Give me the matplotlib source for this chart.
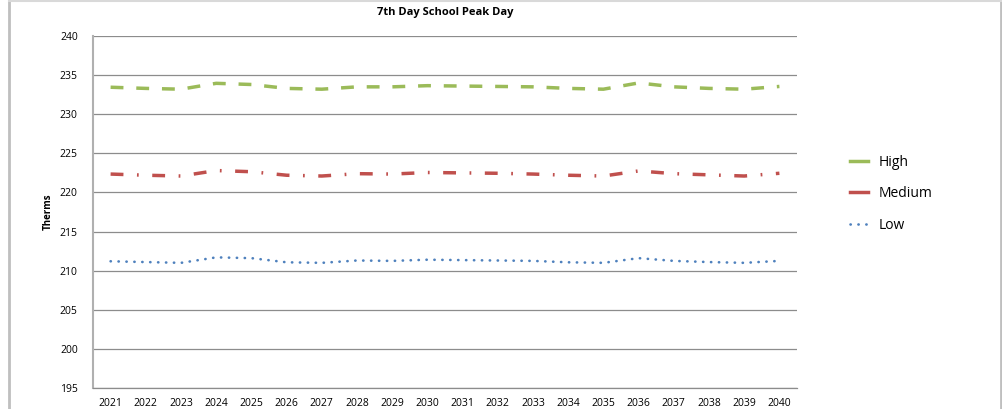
import matplotlib
matplotlib.use("Agg")
import matplotlib.pyplot as plt
from matplotlib.lines import Line2D

years = [str(y) for y in range(2021, 2041)]
high = [233.45, 233.3, 233.2, 233.95, 233.8, 233.3, 233.2, 233.5, 233.5, 233.65,
        233.6, 233.55, 233.5, 233.3, 233.2, 234.0, 233.5, 233.3, 233.2, 233.55]
medium = [222.35, 222.2, 222.1, 222.8, 222.65, 222.2, 222.1, 222.4, 222.35, 222.55,
          222.5, 222.45, 222.35, 222.2, 222.1, 222.75, 222.4, 222.25, 222.1, 222.45]
low = [211.2, 211.1, 211.0, 211.7, 211.6, 211.07, 211.0, 211.3, 211.25, 211.4,
       211.35, 211.3, 211.25, 211.07, 211.0, 211.6, 211.25, 211.1, 211.0, 211.25]
yticks = [195, 200, 205, 210, 215, 220, 225, 230, 235, 240]

plt.rcParams['font.family'] = ['Open Sans', 'DejaVu Sans']

fig = plt.figure(figsize=(10.03, 4.09), dpi=100)
W, H = 1003, 409
ax = fig.add_axes([93 / W, 1 - 388 / H, (797 - 93) / W, (388 - 36) / H])

x = list(range(len(years)))
c_high = '#9BBB59'
c_med = '#C0504D'
c_low = '#4F81BD'

high_ls = (0, (3.7, 3.7))
med_ls = (0, (3.7, 3.9, 0.5, 3.9))
low_ls = (0, (0.1, 2.9))

ax.plot(x, high, color=c_high, lw=2.5, linestyle=high_ls, dash_capstyle='butt')
ax.plot(x, medium, color=c_med, lw=2.5, linestyle=med_ls, dash_capstyle='butt')
ax.plot(x, low, color=c_low, lw=1.9, linestyle=low_ls, dash_capstyle='round')

ax.set_xlim(-0.5, len(years) - 0.5)
ax.set_ylim(195, 240)
ax.set_yticks(yticks)
ax.set_xticks(x)
ax.set_xticklabels(years)
ax.tick_params(axis='both', length=0, labelsize=7.5, colors='black')
ax.tick_params(axis='y', pad=11)
ax.tick_params(axis='x', pad=7)
ax.yaxis.grid(True, color='#8c8c8c', lw=0.9)
ax.set_axisbelow(True)
for s in ['top', 'right']:
    ax.spines[s].set_visible(False)
ax.spines['left'].set_color('#b0b0b0')
ax.spines['left'].set_linewidth(1.5)
ax.spines['bottom'].set_color('#8c8c8c')
ax.spines['bottom'].set_linewidth(0.9)

ax.set_ylabel('Therms', fontsize=7, fontweight='bold', labelpad=4)
fig.text(445 / W, 1 - 13 / H, '7th Day School Peak Day', ha='center', va='center',
         fontsize=8, fontweight='bold')

handles = [Line2D([], [], color=c_high, lw=2.5),
           Line2D([], [], color=c_med, lw=2.5),
           Line2D([], [], color=c_low, lw=1.9, linestyle=low_ls, dash_capstyle='round')]
fig.legend(handles, ['High', 'Medium', 'Low'], loc='upper left',
           bbox_to_anchor=(838 / W, 1 - 142 / H), frameon=False, fontsize=10,
           handlelength=1.25, labelspacing=1.2, handletextpad=0.8)

# outer frame lines
fig.add_artist(Line2D([9 / W, 9 / W], [0, 1], color='#bfbfbf', lw=2, transform=fig.transFigure))
fig.add_artist(Line2D([1001 / W, 1001 / W], [0, 1], color='#bfbfbf', lw=2, transform=fig.transFigure))
fig.add_artist(Line2D([9 / W, 1001 / W], [1 - 0.5 / H, 1 - 0.5 / H], color='#d9d9d9', lw=1.5, transform=fig.transFigure))

fig.savefig('out.png', dpi=100)
